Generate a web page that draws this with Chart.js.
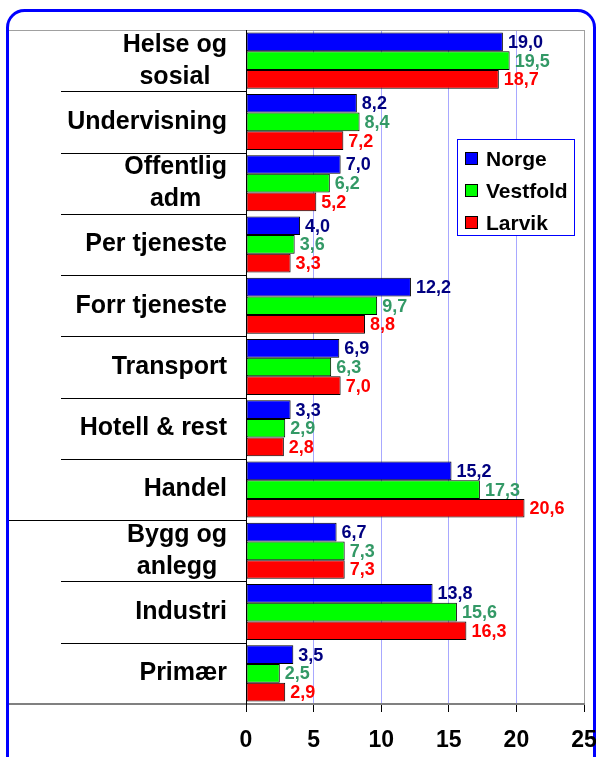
<!DOCTYPE html>
<html>
<head>
<meta charset="utf-8">
<script src="https://cdn.jsdelivr.net/npm/chart.js@4.4.1/dist/chart.umd.min.js"></script>
<style>
  body { margin: 0; background: #fff; }
  #wrap { width: 596px; height: 757px; }
</style>
</head>
<body>
<div id="wrap"><canvas id="chart" width="596" height="757"></canvas></div>
<script>
const categories = [
  ["Helse og", "sosial"], "Undervisning", ["Offentlig", "adm"], "Per tjeneste",
  "Forr tjeneste", "Transport", "Hotell & rest", "Handel", ["Bygg og", "anlegg"],
  "Industri", "Primær"
]
const norge    = [19.0, 8.2, 7.0, 4.0, 12.2, 6.9, 3.3, 15.2, 6.7, 13.8, 3.5]
const vestfold = [19.5, 8.4, 6.2, 3.6, 9.7, 6.3, 2.9, 17.3, 7.3, 15.6, 2.5]
const larvik   = [18.7, 7.2, 5.2, 3.3, 8.8, 7.0, 2.8, 20.6, 7.3, 16.3, 2.9]
const xTicks = [0, 5, 10, 15, 20, 25]

const FONT = '"Liberation Sans", Arial, sans-serif'
const labelColors = ["#000080", "#339966", "#ff0000"]

// white page, blue rounded border, grey plot frame
const framePlugin = {
  id: "frame",
  beforeDraw(chart) {
    const { ctx } = chart
    ctx.save()
    ctx.fillStyle = "#fff"
    ctx.fillRect(0, 0, chart.width, chart.height)
    ctx.strokeStyle = "#0000ff"
    ctx.lineWidth = 3
    ctx.beginPath()
    ctx.roundRect(7.5, 10.5, 587, 770, 17)
    ctx.stroke()
    ctx.restore()
  },
  beforeDatasetsDraw(chart) {
    const { ctx, chartArea } = chart
    ctx.save()
    ctx.strokeStyle = "#a0a0a0"
    ctx.lineWidth = 1
    ctx.beginPath()
    ctx.moveTo(9, chartArea.top + 0.5)
    ctx.lineTo(chartArea.right + 0.5, chartArea.top + 0.5)
    ctx.lineTo(chartArea.right + 0.5, chartArea.bottom)
    ctx.stroke()
    ctx.strokeStyle = "#808080"
    ctx.lineWidth = 2
    ctx.beginPath()
    ctx.moveTo(9, chartArea.bottom)
    ctx.lineTo(chartArea.right + 1, chartArea.bottom)
    ctx.stroke()
    ctx.restore()
  },
  afterDatasetsDraw(chart) {
    const { ctx, chartArea } = chart
    const y = chart.scales.y
    ctx.save()
    ctx.strokeStyle = "#000"
    ctx.lineWidth = 1
    // category separators
    for (let i = 0; i < categories.length - 1; i++) {
      const py = Math.round((y.getPixelForValue(i) + y.getPixelForValue(i + 1)) / 2) + 0.5
      ctx.beginPath()
      ctx.moveTo(i === 7 ? 9 : 61, py)
      ctx.lineTo(chartArea.left, py)
      ctx.stroke()
    }
    // y axis line
    ctx.beginPath()
    ctx.moveTo(chartArea.left + 0.5, chartArea.top)
    ctx.lineTo(chartArea.left + 0.5, chartArea.bottom + 8)
    ctx.stroke()

    // category labels, lines centered inside a right-aligned block
    ctx.fillStyle = "#000"
    ctx.font = "bold 25px " + FONT
    ctx.textBaseline = "middle"
    ctx.textAlign = "center"
    const right = chartArea.left - 19
    categories.forEach((lab, i) => {
      const lines = Array.isArray(lab) ? lab : [lab]
      const w = Math.max(...lines.map((l) => ctx.measureText(l).width))
      const cx = right - w / 2
      const cy = y.getPixelForValue(i)
      const lh = 32
      lines.forEach((l, k) => {
        ctx.fillText(l, cx, cy + (k - (lines.length - 1) / 2) * lh)
      })
    })

    // value labels
    ctx.font = "bold 18px " + FONT
    ctx.textAlign = "left"
    chart.data.datasets.forEach((ds, di) => {
      const meta = chart.getDatasetMeta(di)
      ctx.fillStyle = labelColors[di]
      meta.data.forEach((bar, i) => {
        const txt = ds.data[i].toFixed(1).replace(".", ",")
        ctx.fillText(txt, bar.x + 5, bar.y + 1)
      })
    })
    ctx.restore()
  },
  afterDraw(chart) {
    const { ctx } = chart
    ctx.save()
    ctx.fillStyle = "#fff"
    ctx.fillRect(457, 139, 117, 96)
    ctx.strokeStyle = "#0000ff"
    ctx.lineWidth = 1
    ctx.strokeRect(457.5, 139.5, 117, 96)
    ctx.font = "bold 21px " + FONT
    ctx.textBaseline = "middle"
    ctx.textAlign = "left"
    chart.data.datasets.forEach((ds, i) => {
      const cy = 159 + i * 32
      ctx.fillStyle = ds.backgroundColor
      ctx.fillRect(465, cy - 7, 13, 13)
      ctx.strokeStyle = "#000"
      ctx.strokeRect(465.5, cy - 6.5, 12, 12)
      ctx.fillStyle = "#000"
      ctx.fillText(ds.label, 486, cy + 1)
    })
    ctx.restore()
  }
}

const ctx = document.getElementById("chart").getContext("2d")
new Chart(ctx, {
  type: "bar",
  data: {
    labels: categories,
    datasets: [
      { label: "Norge", data: norge, backgroundColor: "#0000ff" },
      { label: "Vestfold", data: vestfold, backgroundColor: "#00ff00" },
      { label: "Larvik", data: larvik, backgroundColor: "#ff0000" }
    ].map((d) => Object.assign(d, { borderColor: "#000", borderWidth: 1, borderSkipped: false }))
  },
  options: {
    indexAxis: "y",
    responsive: false,
    devicePixelRatio: 1,
    animation: false,
    layout: { padding: { top: 30, right: 12, left: 0, bottom: 0 } },
    datasets: { bar: { categoryPercentage: 0.915, barPercentage: 1.0 } },
    scales: {
      x: {
        min: 0,
        max: 25,
        afterBuildTicks: (scale) => { scale.ticks = xTicks.map((v) => ({ value: v })) },
        afterFit: (scale) => {
          scale.height = 53
          scale.paddingLeft = 0
          scale.paddingRight = 0
        },
        border: { display: false },
        grid: {
          color: (c) => (c.tick && c.tick.value === 25 ? "#a0a0a0" : "#a8a8ff"),
          tickColor: "#000",
          tickLength: 8
        },
        ticks: {
          color: "#000",
          font: { family: FONT, size: 23, weight: "bold" },
          padding: 15
        }
      },
      y: {
        afterFit: (scale) => {
          scale.width = 246
          scale.paddingTop = 0
          scale.paddingBottom = 0
        },
        grid: { display: false },
        border: { display: false },
        ticks: { display: false }
      }
    },
    plugins: {
      legend: { display: false },
      tooltip: { enabled: false }
    }
  },
  plugins: [framePlugin]
})
</script>
</body>
</html>
